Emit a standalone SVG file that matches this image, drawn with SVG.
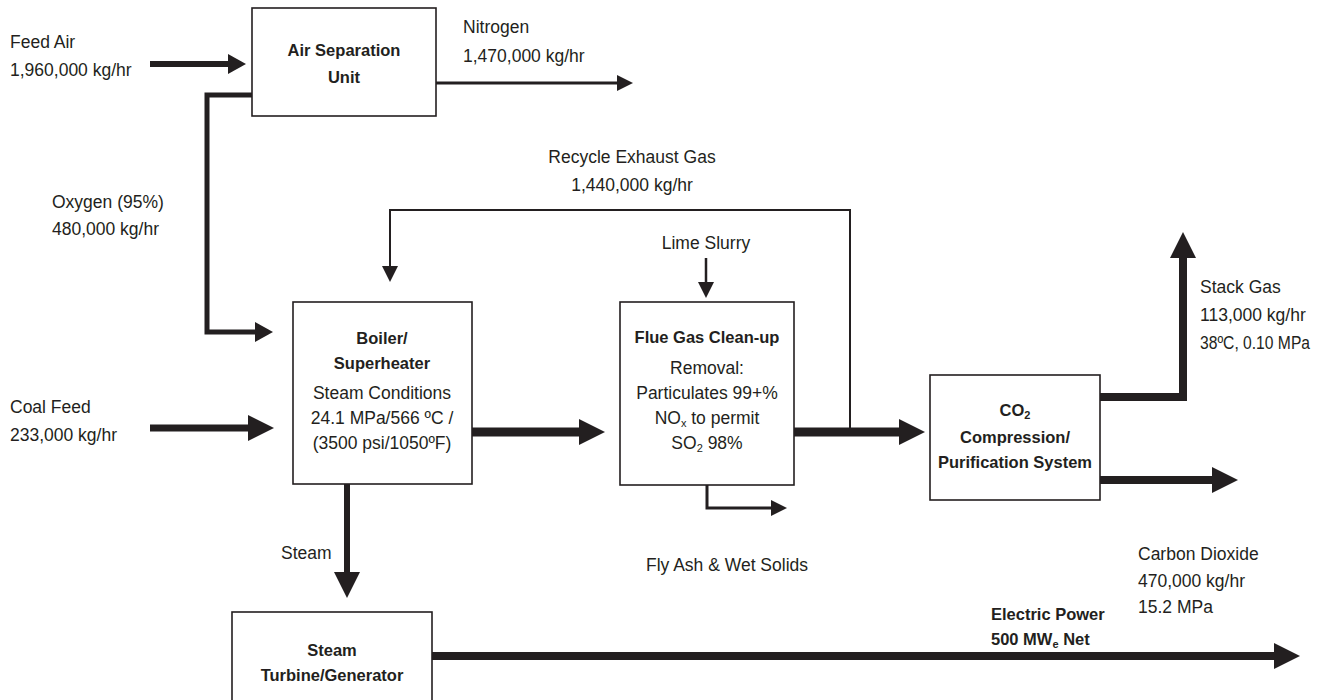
<svg xmlns="http://www.w3.org/2000/svg" width="1321" height="700" viewBox="0 0 1321 700">
<defs>
<style>
.box{fill:#fff;stroke:#231f20;stroke-width:1.6}
.t{font-family:"Liberation Sans",Arial,sans-serif;font-size:17.5px;fill:#231f20}
.b{font-family:"Liberation Sans",Arial,sans-serif;font-size:16.5px;font-weight:bold;fill:#231f20}
.c{text-anchor:middle}
.ln{fill:none;stroke:#231f20;stroke-linejoin:miter}
.sub{font-size:11px}
</style>
<marker id="hS" markerUnits="userSpaceOnUse" markerWidth="18" markerHeight="16" refX="0" refY="8" orient="auto"><path d="M0,0 L16,8 L0,16 z" fill="#231f20"/></marker>
<marker id="hM" markerUnits="userSpaceOnUse" markerWidth="20" markerHeight="20" refX="0" refY="10" orient="auto"><path d="M0,0 L18,10 L0,20 z" fill="#231f20"/></marker>
<marker id="hL" markerUnits="userSpaceOnUse" markerWidth="28" markerHeight="26" refX="0" refY="13" orient="auto"><path d="M0,0 L26,13 L0,26 z" fill="#231f20"/></marker>
</defs>
<rect width="1321" height="700" fill="#fff"/>

<g id="connectors">
<path class="ln" d="M150,64 H228" stroke-width="6" marker-end="url(#hM)"/>
<path class="ln" d="M436,83 H617" stroke-width="3" marker-end="url(#hS)"/>
<path class="ln" d="M252,95 H207 V332 H255" stroke-width="5" marker-end="url(#hM)"/>
<path class="ln" d="M850,432 V210 H390 V266" stroke-width="2" marker-end="url(#hS)"/>
<path class="ln" d="M150,428 H248" stroke-width="7" marker-end="url(#hL)"/>
<path class="ln" d="M472,432 H579" stroke-width="9" marker-end="url(#hL)"/>
<path class="ln" d="M706,258 V282" stroke-width="2.5" marker-end="url(#hS)"/>
<path class="ln" d="M794,432 H899" stroke-width="9" marker-end="url(#hL)"/>
<path class="ln" d="M707,485 V508 H771" stroke-width="3" marker-end="url(#hS)"/>
<path class="ln" d="M1100,397 H1183 V258" stroke-width="8" marker-end="url(#hL)"/>
<path class="ln" d="M1100,480 H1212" stroke-width="8" marker-end="url(#hL)"/>
<path class="ln" d="M347,484 V572" stroke-width="6" marker-end="url(#hL)"/>
<path class="ln" d="M432,656 H1274" stroke-width="8" marker-end="url(#hL)"/>
</g>

<g id="labels">
<text class="t" x="10" y="48">Feed Air</text>
<text class="t" x="10" y="76">1,960,000 kg/hr</text>
<text class="t" x="463" y="33">Nitrogen</text>
<text class="t" x="463" y="62">1,470,000 kg/hr</text>
<text class="t" x="52" y="208">Oxygen (95%)</text>
<text class="t" x="52" y="235">480,000 kg/hr</text>
<text class="t c" x="632" y="163">Recycle Exhaust Gas</text>
<text class="t c" x="632" y="191">1,440,000 kg/hr</text>
<text class="t c" x="706" y="249">Lime Slurry</text>
<text class="t" x="10" y="413">Coal Feed</text>
<text class="t" x="10" y="441">233,000 kg/hr</text>
<text class="t" x="281" y="559">Steam</text>
<text class="t c" x="727" y="571">Fly Ash &amp; Wet Solids</text>
<text class="t" x="1200" y="293">Stack Gas</text>
<text class="t" x="1200" y="321">113,000 kg/hr</text>
<text class="t" x="1200" y="349" textLength="110" lengthAdjust="spacingAndGlyphs">38ºC, 0.10 MPa</text>
<text class="t" x="1138" y="560">Carbon Dioxide</text>
<text class="t" x="1138" y="587">470,000 kg/hr</text>
<text class="t" x="1138" y="613">15.2 MPa</text>
<text class="b" x="991" y="620">Electric Power</text>
<text class="b" x="991" y="645">500 MW<tspan class="sub" dy="3">e</tspan><tspan dy="-3"> Net</tspan></text>
</g>

<g id="asu">
<rect class="box" x="252" y="8" width="184" height="108"/>
<text class="b c" x="344" y="56">Air Separation</text>
<text class="b c" x="344" y="83">Unit</text>
</g>

<g id="boiler">
<rect class="box" x="293" y="302" width="179" height="182"/>
<text class="b c" x="382" y="344">Boiler/</text>
<text class="b c" x="382" y="369">Superheater</text>
<text class="t c" x="382" y="399">Steam Conditions</text>
<text class="t c" x="382" y="424">24.1 MPa/566 ºC /</text>
<text class="t c" x="382" y="449">(3500 psi/1050ºF)</text>
</g>

<g id="fgc">
<rect class="box" x="620" y="302" width="174" height="183"/>
<text class="b c" x="707" y="343">Flue Gas Clean-up</text>
<text class="t c" x="707" y="374">Removal:</text>
<text class="t c" x="707" y="399">Particulates 99+%</text>
<text class="t c" x="707" y="424">NO<tspan class="sub" dy="3">x</tspan><tspan dy="-3"> to permit</tspan></text>
<text class="t c" x="707" y="449">SO<tspan class="sub" dy="3">2</tspan><tspan dy="-3"> 98%</tspan></text>
</g>

<g id="co2">
<rect class="box" x="930" y="375" width="170" height="125"/>
<text class="b c" x="1015" y="416">CO<tspan class="sub" dy="3">2</tspan></text>
<text class="b c" x="1015" y="443">Compression/</text>
<text class="b c" x="1015" y="468">Purification System</text>
</g>

<g id="turbine">
<rect class="box" x="232" y="612" width="200" height="100"/>
<text class="b c" x="332" y="656">Steam</text>
<text class="b c" x="332" y="681">Turbine/Generator</text>
</g>
</svg>
